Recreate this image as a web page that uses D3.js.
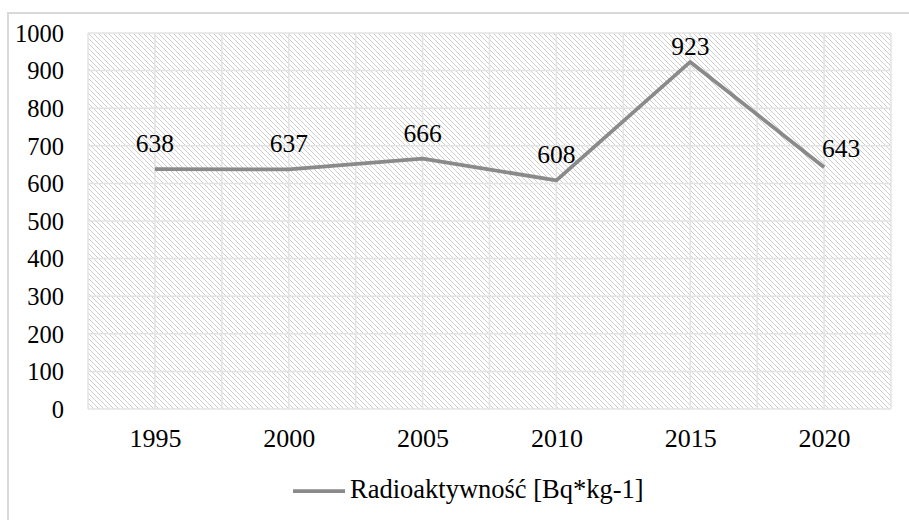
<!DOCTYPE html>
<html><head><meta charset="utf-8">
<script src="https://cdn.jsdelivr.net/npm/d3@7"></script>
<style>body{margin:0;background:#fff;} svg{display:block;} svg text{font-family:"Liberation Serif","Times New Roman",serif;}</style>
</head><body><div id="chart"></div>
<script>
const categories = ["1995","2000","2005","2010","2015","2020"];
const values = [638, 637, 666, 608, 923, 643];
const yTicks = [0,100,200,300,400,500,600,700,800,900,1000];
const seriesName = "Radioaktywność [Bq*kg-1]";

const W = 909, H = 520;
const svg = d3.select("#chart").append("svg").attr("width", W).attr("height", H);
const font = '"Liberation Serif","Times New Roman",serif';

const defs = svg.append("defs");
const pat = defs.append("pattern").attr("id","hatch").attr("patternUnits","userSpaceOnUse")
  .attr("width",5).attr("height",5);
pat.append("rect").attr("width",5).attr("height",5).attr("fill","#fff");
pat.append("path").attr("d","M-1,-1 L6,6 M-1,4 L1,6 M4,-1 L6,1")
  .attr("stroke","#cdcdcd").attr("stroke-width",1);

// outer border
svg.append("rect").attr("x",8).attr("y",13).attr("width",910).attr("height",520)
  .attr("fill","#fff").attr("stroke","#d9d9d9").attr("stroke-width",2);

const plot = {l:88, r:891, t:33, b:409};
const x = d3.scalePoint().domain(categories).range([plot.l, plot.r]).padding(0.5);
const y = d3.scaleLinear().domain([0,1000]).range([plot.b, plot.t]);

svg.append("rect").attr("x",plot.l).attr("y",plot.t).attr("width",plot.r-plot.l).attr("height",plot.b-plot.t)
  .attr("fill","url(#hatch)");

// vertical gridlines every half category
const step = x.step();
const vx = d3.range(0, categories.length*2+1).map(i => plot.l + i*step/2);
svg.append("g").selectAll("line").data(vx).join("line")
  .attr("x1",d=>d).attr("x2",d=>d).attr("y1",plot.t).attr("y2",plot.b)
  .attr("stroke","#e3e3e3").attr("stroke-width",1.5);

// horizontal gridlines
svg.append("g").selectAll("line").data(yTicks).join("line")
  .attr("x1",plot.l).attr("x2",plot.r).attr("y1",d=>y(d)).attr("y2",d=>y(d))
  .attr("stroke","#e3e3e3").attr("stroke-width",1.5);

// y axis labels
const yAxis = d3.axisLeft(y).tickValues(yTicks).tickFormat(d3.format("d")).tickSize(0).tickPadding(24);
const gy = svg.append("g").attr("transform",`translate(${plot.l},0)`).call(yAxis)
  .attr("font-family",font).attr("font-size",24.5);
gy.select(".domain").remove();
gy.selectAll("text").style("font-family",font).style("font-size","24.5px").attr("fill","#000")
  .attr("dy","0.34em");

// x axis labels
const xAxis = d3.axisBottom(x).tickSize(0).tickPadding(0);
const gx = svg.append("g").attr("transform",`translate(0,${plot.b})`).call(xAxis)
  .attr("font-family",font).attr("font-size",26);
gx.select(".domain").remove();
gx.selectAll("text").style("font-family",font).style("font-size","26px").attr("fill","#000")
  .attr("y",38).attr("dy",0);

// line
const line = d3.line().x((d,i)=>x(categories[i])).y(d=>y(d));
svg.append("path").datum(values).attr("d",line).attr("fill","none")
  .attr("stroke","#8a8a8a").attr("stroke-width",3.75).attr("stroke-linejoin","round");

// data labels: above the point, kept inside the plot top; the last one sits to the right
const last = values.length - 1;
svg.append("g").selectAll("text").data(values).join("text")
  .attr("x",(d,i)=> i === last ? x(categories[i]) - 2 : x(categories[i]))
  .attr("y",(d,i)=> i === last ? y(d) - 10 : Math.max(y(d) - 17, plot.t + 22))
  .attr("text-anchor",(d,i)=> i === last ? "start" : "middle")
  .style("font-family",font).style("font-size","25.5px")
  .text(d=>d);

// legend
const lg = svg.append("g");
lg.append("line").attr("x1",293).attr("x2",345).attr("y1",491).attr("y2",491)
  .attr("stroke","#8a8a8a").attr("stroke-width",3.75);
lg.append("text").attr("x",350).attr("y",498).style("font-family",font).style("font-size","26.5px")
  .text(seriesName);
</script></body></html>
